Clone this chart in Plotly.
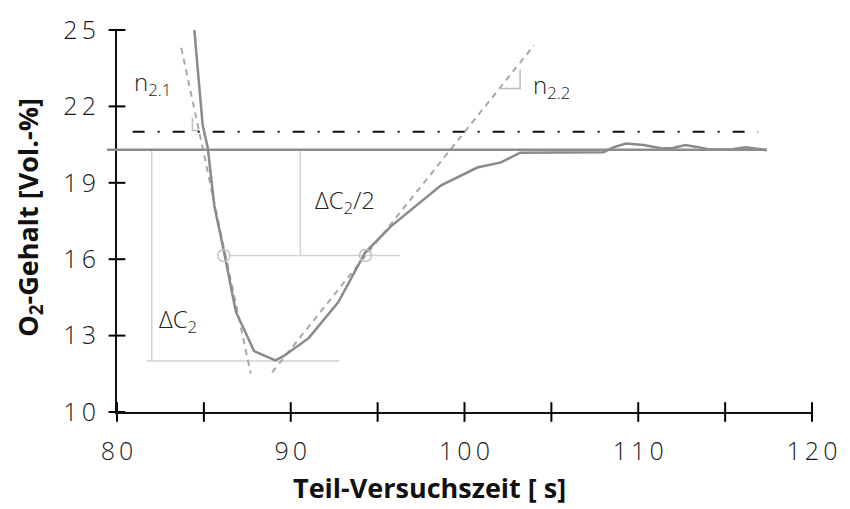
import plotly.graph_objects as go

# Measured O2 trace during the partial test run
t_s = [84.45, 84.93, 85.22, 85.6, 86.17, 86.84, 87.89, 89.12, 89.6, 91.03, 92.74,
       94.27, 95.78, 98.65, 100.74, 102.1, 103.2, 104.6, 106.5, 108.0, 108.6, 109.3,
       110.3, 111.4, 112.0, 112.7, 113.3, 114.1, 115.4, 116.2, 117.4]
o2_vol = [25.0, 21.27, 20.39, 18.1, 16.25, 13.94, 12.39, 12.03, 12.2, 12.9, 14.32,
          16.25, 17.3, 18.9, 19.6, 19.8, 20.18, 20.18, 20.18, 20.2, 20.4, 20.54,
          20.48, 20.35, 20.37, 20.48, 20.42, 20.31, 20.32, 20.4, 20.28]

# Reference levels
o2_ambient = 21.0
o2_final = 20.3
o2_min = 12.0
o2_half = (o2_final + o2_min) / 2

# Tangent lines n2.1 (falling) and n2.2 (rising)
tan1_t = [83.7, 87.7]
tan1_y = [24.3, 11.5]
tan2_t = [88.93, 104.0]
tan2_y = [11.56, 24.4]

# Points where the curve crosses the half level
half_pts_t = [86.15, 94.3]

x_ticks = [80, 85, 90, 95, 100, 105, 110, 115, 120]
x_labels = ["80", "", "90", "", "100", "", "110", "", "120"]
y_ticks = [10, 13, 16, 19, 22, 25]
X_MIN, X_MAX = 80, 120
Y_MIN, Y_MAX = 10, 25

SP = "\u2009"
def spaced(s):
    return SP.join(list(s))

light = dict(family="Open Sans", size=25, color="#1a1a1a", weight=300)
bold = dict(family="Open Sans", size=27, color="#111111", weight=700)
lab = dict(family="Open Sans", size=24, color="#222222", weight=300)

PLOT_W, PLOT_H = 700, 390

fig = go.Figure()

# Helper lines in light grey
ref_col = "#d2d2d2"
fig.add_trace(go.Scatter(x=[82.0, 82.0], y=[o2_final, o2_min], mode="lines",
                         line=dict(color=ref_col, width=1.5), hoverinfo="skip"))
fig.add_trace(go.Scatter(x=[81.7, 92.8], y=[o2_min, o2_min], mode="lines",
                         line=dict(color=ref_col, width=1.5), hoverinfo="skip"))
fig.add_trace(go.Scatter(x=[90.55, 90.55], y=[o2_final, o2_half], mode="lines",
                         line=dict(color=ref_col, width=1.5), hoverinfo="skip"))
fig.add_trace(go.Scatter(x=[86.5, 96.3], y=[o2_half, o2_half], mode="lines",
                         line=dict(color=ref_col, width=1.5), hoverinfo="skip"))

# Tangents
for tt, yy in [(tan1_t, tan1_y), (tan2_t, tan2_y)]:
    fig.add_trace(go.Scatter(x=tt, y=yy, mode="lines",
                             line=dict(color="#a8a8a8", width=2, dash="6px,5px"),
                             hoverinfo="skip"))

# Slope triangles
fig.add_trace(go.Scatter(x=[84.34, 84.34, 84.74], y=[21.55, 21.05, 21.05], mode="lines",
                         line=dict(color="#bdbdbd", width=1.5), hoverinfo="skip"))
fig.add_trace(go.Scatter(x=[102.0, 103.2, 103.2], y=[22.7, 22.7, 23.45], mode="lines",
                         line=dict(color="#bdbdbd", width=1.5), hoverinfo="skip"))

# Ambient O2 level (dash-dot)
fig.add_trace(go.Scatter(x=[80.9, 116.9], y=[o2_ambient, o2_ambient], mode="lines",
                         line=dict(color="#111111", width=2, dash="12px,13px,2px,13px"),
                         hoverinfo="skip"))

# Measured curve
fig.add_trace(go.Scatter(x=t_s, y=o2_vol, mode="lines",
                         line=dict(color="#8a8a8a", width=2.5), hoverinfo="skip"))

# Half-level markers
fig.add_trace(go.Scatter(x=half_pts_t, y=[o2_half] * len(half_pts_t), mode="markers",
                         marker=dict(symbol="circle-open", size=12, color="#c4c4c4",
                                     line=dict(width=1.5)),
                         hoverinfo="skip", cliponaxis=False))

# Final level line, reaching slightly left of the y axis
fig.add_shape(type="line", xref="x domain", yref="y",
              x0=-10 / PLOT_W, x1=(117.4 - X_MIN) / (X_MAX - X_MIN), y0=o2_final, y1=o2_final,
              line=dict(color="#8c8c8c", width=2.5), layer="above")

# Tick marks crossing the axis lines (drawn as unclipped line markers)
fig.add_trace(go.Scatter(x=x_ticks, y=[Y_MIN] * len(x_ticks), mode="markers",
                         marker=dict(symbol="line-ns-open", size=14, color="#000",
                                     line=dict(width=2, color="#000")),
                         hoverinfo="skip", cliponaxis=False))
fig.add_trace(go.Scatter(x=[X_MIN] * len(y_ticks), y=y_ticks, mode="markers",
                         marker=dict(symbol="line-ew-open", size=12, color="#000",
                                     line=dict(width=2, color="#000")),
                         hoverinfo="skip", cliponaxis=False))

annots = [
    dict(x=80.85, y=22.9, text="n<sub>2.1</sub>"),
    dict(x=103.8, y=22.8, text="n<sub>2.2</sub>"),
    dict(x=91.3, y=18.3, text="ΔC<sub>2</sub>/2"),
    dict(x=82.3, y=13.6, text="ΔC<sub>2</sub>"),
]
for a in annots:
    fig.add_annotation(x=a["x"], y=a["y"], text=a["text"], xref="x", yref="y",
                       xanchor="left", yanchor="middle", showarrow=False, font=lab)

# Axis titles
fig.add_annotation(x=(432 - 117) / PLOT_W, y=(412 - 489) / PLOT_H, xref="paper", yref="paper",
                   text="Teil-Versuchszeit [ s]", showarrow=False, font=bold,
                   xanchor="center", yanchor="middle")
fig.add_annotation(x=(28 - 117) / PLOT_W, y=(412 - 213) / PLOT_H, xref="paper", yref="paper",
                   text="O<sub>2</sub>-Gehalt [Vol.-%]", showarrow=False, font=bold,
                   textangle=-90, xanchor="center", yanchor="middle")

axis_common = dict(showgrid=False, zeroline=False, ticks="")
fig.update_layout(
    width=850, height=509,
    margin=dict(l=117, r=33, t=22, b=97),
    paper_bgcolor="white", plot_bgcolor="white",
    showlegend=False,
    xaxis=dict(range=[X_MIN, X_MAX], tickvals=x_ticks, ticktext=[spaced(s) for s in x_labels],
               showline=True, linecolor="#111", linewidth=2,
               tickfont=light, ticklabelstandoff=16, **axis_common),
    yaxis=dict(range=[Y_MIN, Y_MAX], tickvals=y_ticks, ticktext=[spaced(str(v)) for v in y_ticks],
               showline=True, linecolor="#111", linewidth=2,
               tickfont=light, ticklabelstandoff=14, **axis_common),
)

fig.write_html("out.html")
